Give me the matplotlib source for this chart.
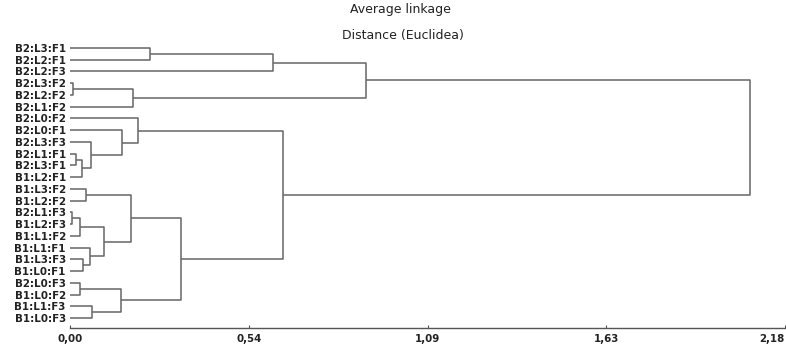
import matplotlib.pyplot as plt

# leaf labels, top to bottom
leaves = ['B2:L3:F1', 'B2:L2:F1', 'B2:L2:F3', 'B2:L3:F2', 'B2:L2:F2', 'B2:L1:F2',
          'B2:L0:F2', 'B2:L0:F1', 'B2:L3:F3', 'B2:L1:F1', 'B2:L3:F1', 'B1:L2:F1',
          'B1:L3:F2', 'B1:L2:F2', 'B2:L1:F3', 'B1:L2:F3', 'B1:L1:F2', 'B1:L1:F1',
          'B1:L3:F3', 'B1:L0:F1', 'B2:L0:F3', 'B1:L0:F2', 'B1:L1:F3', 'B1:L0:F3']

# linkage: cluster 24+i joins merge_left[i] and merge_right[i] at merge_height[i]
merge_left = [14, 3, 9, 20, 24, 26, 18, 12, 17, 8, 22, 28,
              27, 7, 31, 25, 6, 0, 38, 41, 40, 43, 45]
merge_right = [15, 4, 10, 21, 16, 11, 19, 13, 30, 29, 23, 32,
               34, 33, 35, 5, 37, 1, 36, 2, 42, 39, 44]
merge_height = [0.006, 0.009, 0.018, 0.031, 0.031, 0.037, 0.040, 0.049, 0.061, 0.064,
                0.067, 0.104, 0.156, 0.159, 0.186, 0.192, 0.207, 0.244, 0.339, 0.619,
                0.650, 0.903, 2.074]

xticks = [0, 0.545, 1.09, 1.635, 2.18]
xtick_labels = ['0,00', '0,54', '1,09', '1,63', '2,18']

fig = plt.figure(figsize=(7.86, 3.44), dpi=100)
ax = fig.add_axes([70 / 786, 1 - 328 / 344, 715 / 786, 288 / 344])

line_color = '#666666'
height = {i: 0.0 for i in range(len(leaves))}
pos = {i: float(i) for i in range(len(leaves))}
n = len(leaves)
for k, (a, b, h) in enumerate(zip(merge_left, merge_right, merge_height)):
    ax.plot([height[a], h, h, height[b]], [pos[a], pos[a], pos[b], pos[b]],
            color=line_color, lw=1.1, solid_capstyle='butt')
    height[n + k] = h
    pos[n + k] = (pos[a] + pos[b]) / 2

ax.set_xlim(0, 2.18)
ax.set_ylim(n - 1 + 0.85, -0.68)
ax.set_yticks(range(n))
ax.set_yticklabels(leaves, fontsize=7.4, fontweight='bold', color='#222222')
ax.tick_params(axis='y', length=0, pad=3)
ax.set_xticks(xticks)
ax.set_xticklabels(xtick_labels, fontsize=7.4, fontweight='bold', color='#222222')
ax.tick_params(axis='x', direction='in', length=2, width=0.8, color='#555555', pad=4)
# keep the last tick label inside the figure
ax.get_xticklabels()[-1].set_horizontalalignment('right')
ax.get_xticklabels()[-1].set_x(2.18)

for side in ['top', 'right', 'left']:
    ax.spines[side].set_visible(False)
ax.spines['bottom'].set_color('#555555')
ax.spines['bottom'].set_linewidth(1.0)

fig.text(400 / 786, 1 - 10 / 344, 'Average linkage', ha='center', va='center',
         fontsize=9, family='Liberation Sans Narrow', color='#222222')
fig.text(403 / 786, 1 - 35 / 344, 'Distance (Euclidea)', ha='center', va='center',
         fontsize=9, family='Liberation Sans Narrow', color='#222222')

fig.savefig('out.png', dpi=100)
